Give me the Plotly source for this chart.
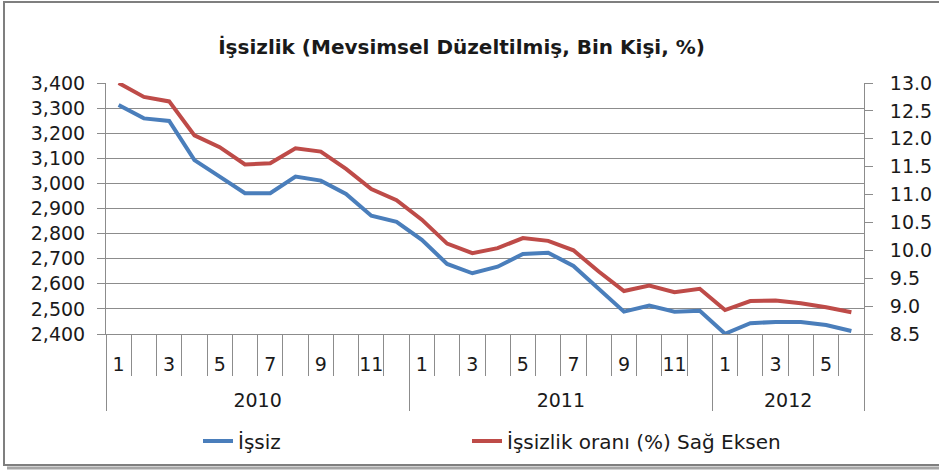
import plotly.graph_objects as go

# ---- data ----
years = ["2010"] * 12 + ["2011"] * 12 + ["2012"] * 6
months = list(range(1, 13)) + list(range(1, 13)) + list(range(1, 7))
issiz = [3312, 3259, 3249, 3093, 3027, 2961, 2961, 3027, 3011, 2958, 2871, 2847,
         2775, 2679, 2642, 2668, 2719, 2724, 2671, 2582, 2489, 2513, 2489, 2493,
         2401, 2443, 2448, 2448, 2436, 2412]
oran = [13.0, 12.75, 12.67, 12.06, 11.85, 11.54, 11.56, 11.83, 11.77, 11.46, 11.10, 10.90,
        10.55, 10.12, 9.95, 10.04, 10.22, 10.17, 10.0, 9.62, 9.27, 9.37, 9.25, 9.31,
        8.93, 9.09, 9.10, 9.05, 8.98, 8.89]
left_ticks = [2400, 2500, 2600, 2700, 2800, 2900, 3000, 3100, 3200, 3300, 3400]
right_ticks = [8.5, 9.0, 9.5, 10.0, 10.5, 11.0, 11.5, 12.0, 12.5, 13.0]

title_text = "İşsizlik (Mevsimsel Düzeltilmiş, Bin Kişi, %)"
name1 = "İşsiz"
name2 = "İşsizlik oranı (%) Sağ Eksen"

# only odd months are labelled; even months get unique blank labels
month_labels = [str(m) if m % 2 == 1 else " " * (m // 2) for m in months]
year_labels = ["<br>" + y for y in years]   # pushes the year row lower
xcat = [year_labels, month_labels]
n = len(months)

FONT = "DejaVu Sans, Liberation Sans, Arial, sans-serif"
GRID = "#8c8c8c"
W, H = 939, 472
L, R, T, B = 106, 75, 83, 138
pw, ph = W - L - R, H - T - B

def px_x(x):
    return (x - L) / pw

def px_y(y):
    return (H - B - y) / ph

fig = go.Figure()
fig.add_trace(go.Scatter(x=xcat, y=issiz, name=name1, mode="lines", legend="legend",
                         line=dict(color="#4a7ebb", width=4)))
fig.add_trace(go.Scatter(x=xcat, y=oran, name=name2, mode="lines", yaxis="y2",
                         legend="legend2", line=dict(color="#be4b48", width=4)))

fig.update_layout(
    width=W, height=H,
    margin=dict(l=L, r=R, t=T, b=B, autoexpand=False),
    paper_bgcolor="white", plot_bgcolor="white",
    font=dict(family=FONT, size=19, color="#1a1a1a"),
    title=dict(text="<b>" + title_text + "</b>", x=0.4915, xref="container",
               y=1 - 47 / H, yref="container", xanchor="center", yanchor="middle",
               font=dict(size=20, color="#1a1a1a")),
    xaxis=dict(type="multicategory", range=[-0.5, n - 0.5],
               showline=True, linecolor=GRID, linewidth=1,
               ticks="outside", ticklen=41, tickcolor=GRID, tickson="boundaries",
               showdividers=True, dividercolor=GRID, dividerwidth=1,
               showgrid=False, tickangle=0, automargin=False,
               ticklabelstandoff=13, tickfont=dict(size=19)),
    yaxis=dict(range=[2400, 3400], tickvals=left_ticks, tickformat=",",
               showline=True, linecolor=GRID, linewidth=1, automargin=False,
               ticks="outside", ticklen=8, tickcolor=GRID, ticklabelstandoff=8,
               showgrid=True, gridcolor=GRID, gridwidth=1, zeroline=False),
    yaxis2=dict(range=[8.5, 13.0], tickvals=right_ticks, tickformat=".1f",
                overlaying="y", side="right", showline=True, linecolor=GRID,
                ticks="outside", ticklen=8, tickcolor=GRID, showgrid=False,
                ticklabelstandoff=13, zeroline=False, automargin=False),
    legend=dict(orientation="h", x=px_x(198), xanchor="left", y=px_y(441),
                yanchor="middle", font=dict(size=20), bgcolor="rgba(0,0,0,0)"),
    legend2=dict(orientation="h", x=px_x(467), xanchor="left", y=px_y(441),
                 yanchor="middle", font=dict(size=20), bgcolor="rgba(0,0,0,0)"),
    showlegend=True,
)

# outer chart frame (right edge lies outside the picture) with a soft shadow
x0, x1, y0, y1 = px_x(4), px_x(950), px_y(2), px_y(465)
fig.add_shape(type="line", xref="paper", yref="paper", x0=px_x(7), x1=px_x(950),
              y0=px_y(468), y1=px_y(468), line=dict(color="#a6a6a6", width=3))
fig.add_shape(type="rect", xref="paper", yref="paper", x0=x0, x1=x1, y0=y1, y1=y0,
              line=dict(color="#7f7f7f", width=2), fillcolor="rgba(0,0,0,0)")

fig.write_html("out.html", config={"displayModeBar": False},
               post_script="document.body.style.margin='0';document.body.style.padding='0';")
